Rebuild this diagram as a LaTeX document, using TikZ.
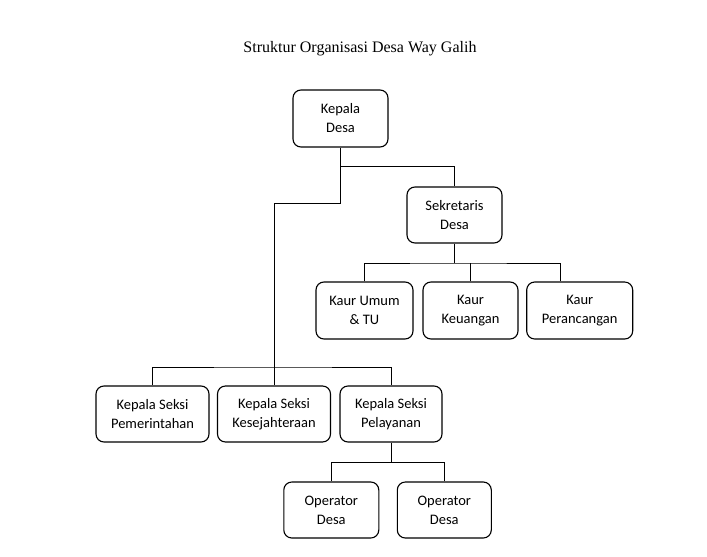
\documentclass[tikz,border=0pt]{standalone}
\usepackage{fontspec}
\setmainfont{Liberation Serif}
\newfontfamily\boxfont{Carlito}
\usepackage{tikz}

\begin{document}
\begin{tikzpicture}[x=1pt,y=-1pt,
    unit/.style={draw,line width=1.1pt,rounded corners=8pt,align=center,
      inner sep=0pt,minimum height=56pt,
      font=\boxfont\fontsize{14.5}{19}\selectfont},
    link/.style={line width=0.9pt}]
  \useasboundingbox (0,0) rectangle (707,557);
  \node[anchor=base] (title) at (360,52.5)
    {\fontsize{16}{19}\selectfont Struktur Organisasi Desa Way Galih};
  % kepala desa and sekretaris
  \node[unit,minimum width=95pt,minimum height=57pt] (kd) at (340.5,118.5) {Kepala\\Desa};
  \node[unit,minimum width=95pt] (sek) at (454.5,215) {Sekretaris\\Desa};
  % kaur row
  \node[unit,minimum width=97pt,minimum height=57pt] (kum) at (364.5,310.5) {Kaur Umum\\\& TU};
  \node[unit,minimum width=95pt,minimum height=57pt] (kku) at (470.5,310.5) {Kaur\\Keuangan};
  \node[unit,minimum width=106pt,minimum height=57pt] (kpr) at (579.7,310.5) {Kaur\\Perancangan};
  % kepala seksi row
  \node[unit,minimum width=113pt] (pem) at (152.5,414) {Kepala Seksi\\Pemerintahan};
  \node[unit,minimum width=113pt] (kes) at (274,414) {Kepala Seksi\\Kesejahteraan};
  \node[unit,minimum width=102pt] (pel) at (391,414) {Kepala Seksi\\Pelayanan};
  % operator row
  \node[unit,minimum width=95pt] (op1) at (331.3,510) {Operator\\Desa};
  \node[unit,minimum width=94pt] (op2) at (444.3,510) {Operator\\Desa};
  % connectors
  \coordinate (sekbar) at (340.5,166);
  \coordinate (seksibend) at (340.5,203);
  \coordinate (seksibar) at (274,367);
  \coordinate (kaurbar) at (454.5,263);
  \coordinate (opbar) at (391,462.5);
  \draw[link] (kd.south) -- (seksibend) -| (kes.north);
  \draw[link] (sekbar) -| (sek.north);
  \draw[link] (pem.north) |- (seksibar) -| (pel.north);
  \draw[link] (sek.south) -- (kaurbar);
  \draw[link] (kum.north) |- (kaurbar) -| ([xshift=-19pt]kpr.north);
  \draw[link] (kku.north) -- (kku.north |- kaurbar);
  \draw[link] (pel.south) -- (opbar);
  \draw[link] (op1.north) |- (opbar) -| (op2.north);
\end{tikzpicture}
\end{document}
